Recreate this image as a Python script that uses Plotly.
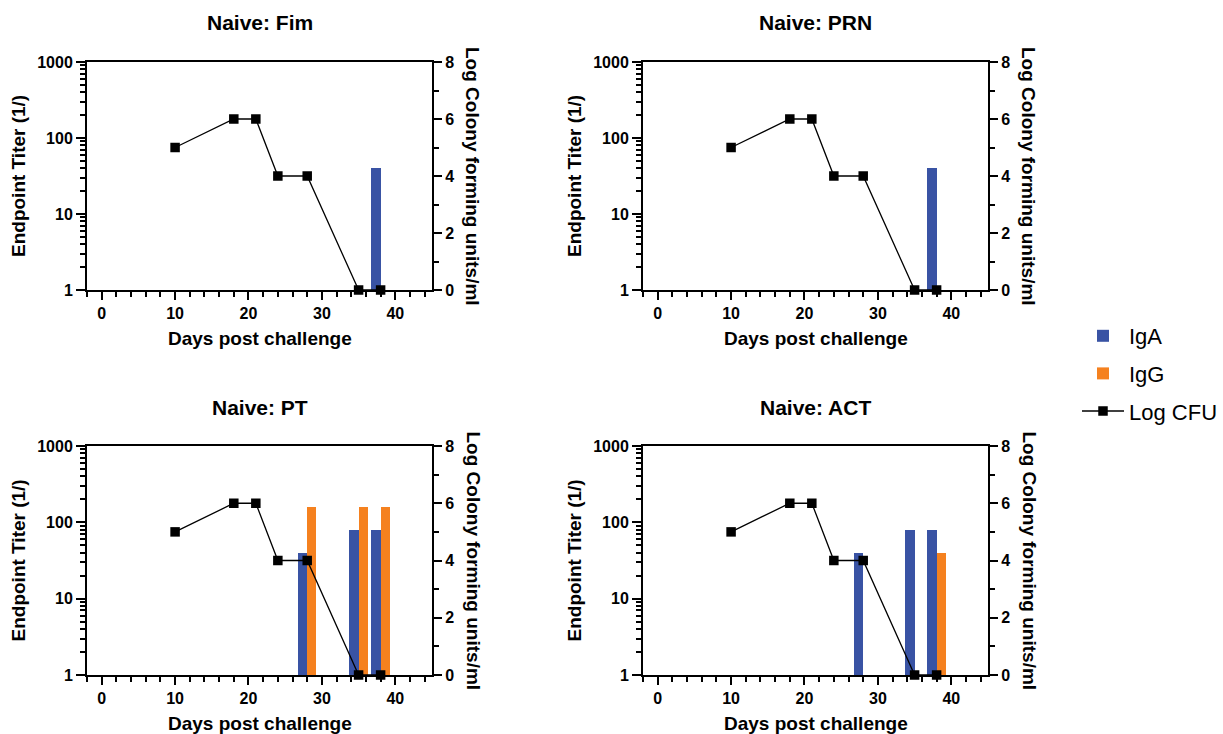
import plotly.graph_objects as go

# Log CFU time course (shared by all four panels)
cfu_days = [10, 18, 21, 24, 28, 35, 38]
log_cfu = [5, 6, 6, 4, 4, 0, 0]

# Days on which antibody titers were measured
titer_days = [28, 35, 38]

# Endpoint titers per antigen (None = below detection)
fim_iga = [None, None, 40]
fim_igg = [None, None, None]
prn_iga = [None, None, 40]
prn_igg = [None, None, None]
pt_iga = [40, 80, 80]
pt_igg = [160, 160, 160]
act_iga = [40, 80, 80]
act_igg = [None, None, 40]

panel_titles = ["Naive: Fim", "Naive: PRN", "Naive: PT", "Naive: ACT"]
panel_iga = [fim_iga, prn_iga, pt_iga, act_iga]
panel_igg = [fim_igg, prn_igg, pt_igg, act_igg]

titer_ticks = [1, 10, 100, 1000]
cfu_ticks = [0, 2, 4, 6, 8]
day_ticks = [0, 10, 20, 30, 40]

IGA_COLOR = "#3953a4"
IGG_COLOR = "#f5811f"
FONT = "Arial, Liberation Sans, sans-serif"

W, H = 1223, 734
col_px = [(87, 432), (643, 988)]
row_px = [(62, 290), (446, 675)]


def px_x(v):
    return v / W


def px_y(v):
    return 1 - v / H


fig = go.Figure()
annotations = []

for k, title in enumerate(panel_titles):
    r, c = divmod(k, 2)
    x0, x1 = col_px[c]
    y0, y1 = row_px[r]
    xdom = [px_x(x0), px_x(x1)]
    ydom = [px_y(y1), px_y(y0)]

    xi = k + 1
    yl = 2 * k + 1
    yr = 2 * k + 2
    xname = "x" if xi == 1 else f"x{xi}"
    ylname = "y" if yl == 1 else f"y{yl}"
    yrname = f"y{yr}"
    xkey = "xaxis" if xi == 1 else f"xaxis{xi}"
    ylkey = "yaxis" if yl == 1 else f"yaxis{yl}"
    yrkey = f"yaxis{yr}"

    first = k == 0
    fig.add_trace(go.Bar(
        x=titer_days, y=panel_iga[k], name="IgA", marker_color=IGA_COLOR,
        marker_line_width=0, width=1.25, offset=-1.25,
        xaxis=xname, yaxis=ylname, showlegend=first, legendgroup="IgA",
    ))
    fig.add_trace(go.Bar(
        x=titer_days, y=panel_igg[k], name="IgG", marker_color=IGG_COLOR,
        marker_line_width=0, width=1.25, offset=0,
        xaxis=xname, yaxis=ylname, showlegend=first, legendgroup="IgG",
    ))
    fig.add_trace(go.Scatter(
        x=cfu_days, y=log_cfu, name="Log CFU", mode="lines+markers",
        line=dict(color="black", width=1.3),
        marker=dict(symbol="square", size=9.5, color="black"),
        cliponaxis=False, xaxis=xname, yaxis=yrname,
        showlegend=first, legendgroup="CFU",
    ))

    axis_common = dict(
        showline=True, linewidth=2, linecolor="black", showgrid=False,
        zeroline=False, ticks="outside", tickwidth=2, tickcolor="black",
        tickfont=dict(family=FONT, size=16, color="black", weight="bold"),
    )

    fig.layout[xkey] = dict(
        axis_common, domain=xdom, anchor=ylname, range=[-2, 45],
        tickvals=day_ticks, ticklen=8, mirror=True,
        minor=dict(dtick=2, tick0=0, ticks="outside", ticklen=5,
                   tickwidth=2, tickcolor="black"),
    )
    fig.layout[ylkey] = dict(
        axis_common, domain=ydom, anchor=xname, type="log", range=[0, 3],
        tickvals=titer_ticks, ticktext=[str(t) for t in titer_ticks],
        ticklen=9,
        minor=dict(dtick="D1", ticks="outside", ticklen=5,
                   tickwidth=1.5, tickcolor="black"),
    )
    fig.layout[yrkey] = dict(
        axis_common, domain=ydom, anchor=xname, overlaying=ylname,
        side="right", range=[0, 8], tickvals=cfu_ticks, ticklen=8,
        minor=dict(dtick=1, tick0=0, ticks="outside", ticklen=5,
                   tickwidth=2, tickcolor="black"),
    )

    cx = (x0 + x1) / 2
    bold = dict(family=FONT, color="black", weight="bold")
    annotations.append(dict(
        text=title, x=px_x(cx), y=px_y(y0 - 39), xref="paper", yref="paper",
        showarrow=False, font=dict(bold, size=21), xanchor="center", yanchor="middle",
    ))
    annotations.append(dict(
        text="Days post challenge", x=px_x(cx), y=px_y(y1 + 48),
        xref="paper", yref="paper", showarrow=False,
        font=dict(bold, size=19), xanchor="center", yanchor="middle",
    ))
    annotations.append(dict(
        text="Endpoint Titer (1/)", x=px_x(x0 - 69), y=px_y((y0 + y1) / 2),
        xref="paper", yref="paper", showarrow=False, textangle=-90,
        font=dict(bold, size=19), xanchor="center", yanchor="middle",
    ))
    annotations.append(dict(
        text="Log Colony forming units/ml", x=px_x(x1 + 41), y=px_y((y0 + y1) / 2),
        xref="paper", yref="paper", showarrow=False, textangle=90,
        font=dict(bold, size=19), xanchor="center", yanchor="middle",
    ))

fig.update_layout(
    width=W, height=H,
    margin=dict(l=0, r=0, t=0, b=0, autoexpand=False),
    paper_bgcolor="white", plot_bgcolor="white",
    barmode="overlay", bargap=0,
    annotations=annotations,
    legend=dict(
        x=px_x(1077), y=px_y(315), xanchor="left", yanchor="top",
        font=dict(family=FONT, size=22, color="black"),
        tracegroupgap=6, itemwidth=42, bgcolor="rgba(0,0,0,0)",
    ),
)

fig.write_html("out.html")
